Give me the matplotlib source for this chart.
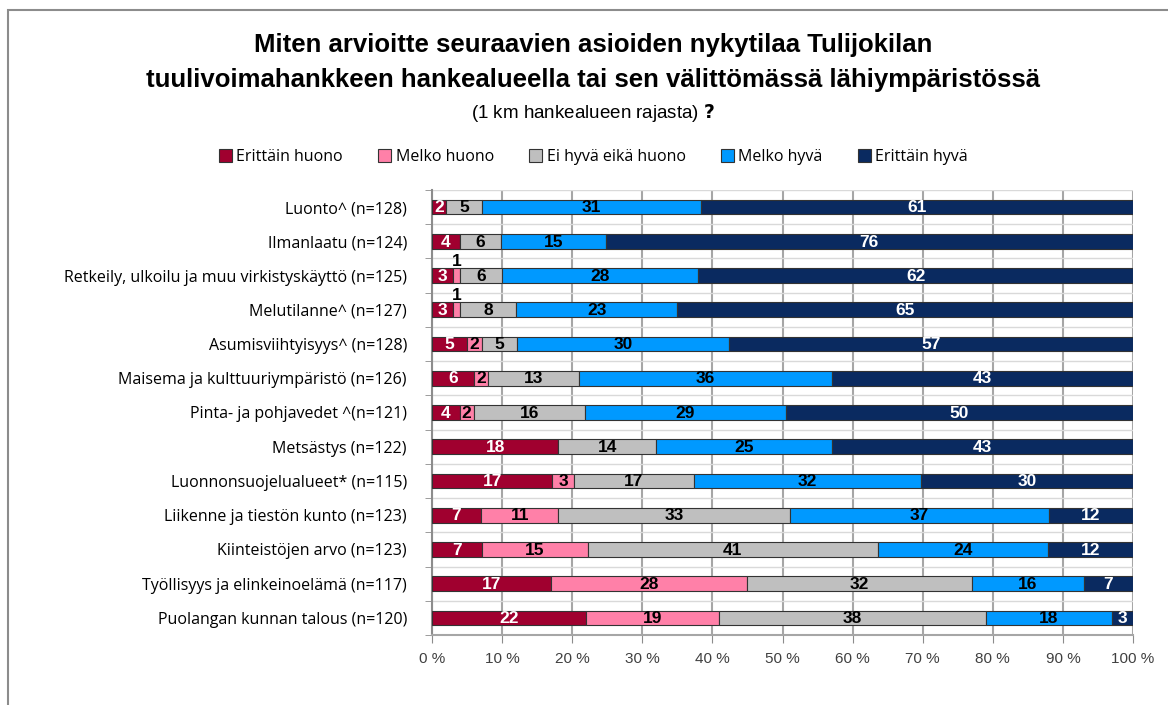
import numpy as np
import matplotlib.pyplot as plt
from matplotlib.patches import Rectangle
from matplotlib.ticker import FuncFormatter

categories = [
    "Luonto^ (n=128)",
    "Ilmanlaatu (n=124)",
    "Retkeily, ulkoilu ja muu virkistyskäyttö (n=125)",
    "Melutilanne^ (n=127)",
    "Asumisviihtyisyys^ (n=128)",
    "Maisema ja kulttuuriympäristö (n=126)",
    "Pinta- ja pohjavedet ^(n=121)",
    "Metsästys (n=122)",
    "Luonnonsuojelualueet* (n=115)",
    "Liikenne ja tiestön kunto (n=123)",
    "Kiinteistöjen arvo (n=123)",
    "Työllisyys ja elinkeinoelämä (n=117)",
    "Puolangan kunnan talous (n=120)",
]

series = ["Erittäin huono", "Melko huono", "Ei hyvä eikä huono", "Melko hyvä", "Erittäin hyvä"]

erittain_huono = [2, 4, 3, 3, 5, 6, 4, 18, 17, 7, 7, 17, 22]
melko_huono = [0, 0, 1, 1, 2, 2, 2, 0, 3, 11, 15, 28, 19]
ei_hyva_eika_huono = [5, 6, 6, 8, 5, 13, 16, 14, 17, 33, 41, 32, 38]
melko_hyva = [31, 15, 28, 23, 30, 36, 29, 25, 32, 37, 24, 16, 18]
erittain_hyva = [61, 76, 62, 65, 57, 43, 50, 43, 30, 12, 12, 7, 3]

colors = ["#A0002F", "#FF80A8", "#BFBFBF", "#0099FF", "#0A2A60"]
text_colors = ["white", "black", "black", "black", "white"]

data = np.array([erittain_huono, melko_huono, ei_hyva_eika_huono, melko_hyva, erittain_hyva], dtype=float)
shares = data / data.sum(axis=0) * 100

fig = plt.figure(figsize=(11.68, 7.05), dpi=100)
ax = fig.add_axes([432 / 1168, 1 - 635 / 705, (1133 - 432) / 1168, 445 / 705])

# frame around the chart
fig.patches.append(Rectangle((8 / 1168, -0.1), 1.2, 1 - 10 / 705 + 0.1, transform=fig.transFigure,
                             fill=False, edgecolor="#8C8C8C", linewidth=1.5))

y = np.arange(len(categories))
left = np.zeros(len(categories))
for i, name in enumerate(series):
    ax.barh(y, shares[i], left=left, height=0.43, color=colors[i], edgecolor="#333333",
            linewidth=0.8, label=name, zorder=3)
    for j in range(len(categories)):
        v = data[i, j]
        if v == 0:
            continue
        cx = left[j] + shares[i, j] / 2
        if v == 1:
            ax.text(cx, j - 0.42, "1", ha="center", va="center", fontsize=12.5,
                    fontweight="bold", color="black", family="Liberation Sans", zorder=4)
        else:
            ax.text(cx, j + 0.02, "%d" % v, ha="center", va="center", fontsize=12.5,
                    fontweight="bold", color=text_colors[i], family="Liberation Sans", zorder=4)
    left += shares[i]

ax.set_xlim(0, 100)
ax.set_ylim(len(categories) - 0.5, -0.5)
ax.set_yticks(y)
ax.set_yticklabels(categories, fontsize=11.5, family="Open Sans")
ax.set_yticks(np.arange(-0.5, len(categories)), minor=True)
ax.tick_params(axis="y", which="major", length=0, pad=18)
ax.tick_params(axis="y", which="minor", length=5, color="#8C8C8C")
ax.set_xticks(np.arange(0, 101, 10))
ax.xaxis.set_major_formatter(FuncFormatter(lambda v, p: "%d %%" % v))
ax.tick_params(axis="x", length=6, color="#8C8C8C", labelsize=11, labelcolor="#404040", pad=6)
for lab in ax.get_xticklabels():
    lab.set_family("Liberation Sans")

ax.grid(axis="x", color="#A6A6A6", linewidth=1.5, zorder=0)
ax.grid(axis="y", which="minor", color="#D9D9D9", linewidth=1, zorder=0)
for s in ["top", "right"]:
    ax.spines[s].set_visible(False)
ax.spines["left"].set_color("#8C8C8C")
ax.spines["left"].set_linewidth(1.5)
ax.spines["bottom"].set_color("#A6A6A6")
ax.spines["bottom"].set_linewidth(1.5)

title_font = ["Liberation Sans", "DejaVu Sans"]
fig.text(0.508, 1 - 45 / 705, "Miten arvioitte seuraavien asioiden nykytilaa Tulijokilan",
         ha="center", va="center", fontsize=18.5, fontweight="bold", family=title_font)
fig.text(0.508, 1 - 80 / 705, "tuulivoimahankkeen hankealueella tai sen välittömässä lähiympäristössä",
         ha="center", va="center", fontsize=18.5, fontweight="bold", family=title_font)
fig.text(0.508, 1 - 113 / 705, "(1 km hankealueen rajasta) $\\bf{?}$", ha="center", va="center",
         fontsize=13.5, family=title_font)

handles, labels = ax.get_legend_handles_labels()
fig.legend(handles, labels, loc="center", bbox_to_anchor=(0.508, 1 - 157 / 705), ncol=5,
           frameon=False, handlelength=0.8, handleheight=0.8,
           columnspacing=2.2, handletextpad=0.3, prop={"family": "Open Sans", "size": 11.5})

fig.savefig("out.png", dpi=100)
